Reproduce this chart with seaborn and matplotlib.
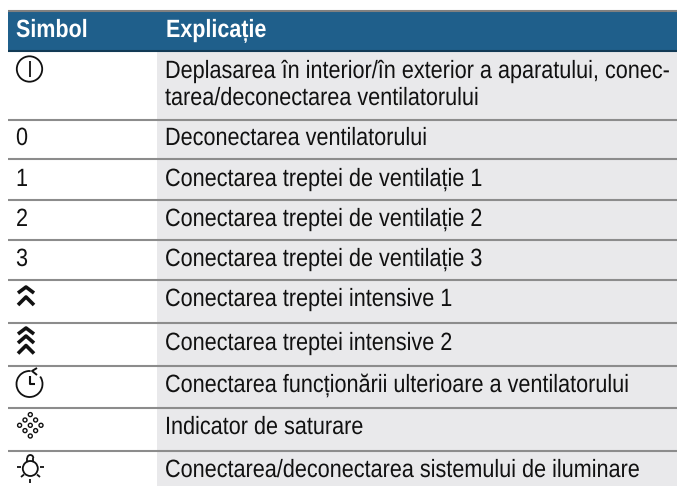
import matplotlib
matplotlib.use("Agg")
import matplotlib.pyplot as plt
from matplotlib.patches import Arc, Circle, Rectangle
from matplotlib.patheffects import AbstractPathEffect
from matplotlib.transforms import Affine2D
import seaborn as sns

symbols = ["", "0", "1", "2", "3", "", "", "", "", ""]
explanations = [
    "Deplasarea în interior/în exterior a aparatului, conec-\ntarea/deconectarea ventilatorului",
    "Deconectarea ventilatorului",
    "Conectarea treptei de ventilație 1",
    "Conectarea treptei de ventilație 2",
    "Conectarea treptei de ventilație 3",
    "Conectarea treptei intensive 1",
    "Conectarea treptei intensive 2",
    "Conectarea funcționării ulterioare a ventilatorului",
    "Indicator de saturare",
    "Conectarea/deconectarea sistemului de iluminare",
]
headers = ["Simbol", "Explicație"]
row_lines = [120, 159.5, 200, 240, 280, 323, 366, 408, 451]
baselines = [78, 145, 186, 226, 266, 306, 350, 392, 434, 477]

BLUE = "#1f5f8b"
INK = "#111111"
HEIGHT = 486
NARROW = 0.865


# no condensed font is installed, so set a smaller size and stretch it up from the baseline
class Tall(AbstractPathEffect):
    def __init__(self, y0, sy):
        super().__init__()
        self.y0 = y0
        self.sy = sy

    def draw_path(self, renderer, gc, tpath, affine, rgbFace=None):
        tall = affine + Affine2D().translate(0, -self.y0).scale(1, self.sy).translate(0, self.y0)
        renderer.draw_path(gc, tpath, tall, rgbFace)


sns.set_style("white")
plt.rcParams["font.family"] = ["Liberation Sans"]
fig = plt.figure(figsize=(6.77, 4.86), dpi=100)
ax = fig.add_axes([0, 0, 1, 1])
ax.set_xlim(0, 677)
ax.set_ylim(HEIGHT, 0)
ax.axis("off")


def label(x, y, s, narrow=NARROW, **kw):
    kw.setdefault("color", INK)
    ax.text(x, y, s, va="baseline", fontsize=18 * narrow,
            path_effects=[Tall(HEIGHT - y, 1 / narrow)], **kw)


# grey column and header band
ax.add_patch(Rectangle((157, 51), 520, 435, color="#e9e9eb", lw=0))
ax.add_patch(Rectangle((8, 11), 669, 40, color=BLUE, lw=0))
ax.plot([8, 677], [11, 11], color="#808080", lw=1.5, solid_capstyle="butt")
ax.plot([8, 677], [50.8, 50.8], color="#123a55", lw=1.5, solid_capstyle="butt")

label(16, 37, headers[0], narrow=0.86, color="white", fontweight="bold")
label(166, 37, headers[1], narrow=0.86, color="white", fontweight="bold")

for y in row_lines:
    ax.plot([8, 677], [y, y], color="#8c8c8c", lw=1.5, solid_capstyle="butt")

for i, txt in enumerate(explanations):
    if "\n" in txt:
        first, second = txt.split("\n")
        label(165, baselines[i], first)
        label(165, baselines[i] + 27, second)
    else:
        label(165, baselines[i], txt)
    if symbols[i]:
        label(16, baselines[i], symbols[i])


def line(xs, ys, lw=1.5):
    ax.plot(xs, ys, color=INK, lw=lw, solid_capstyle="butt")


def ring(x, y, r, lw=1.2):
    ax.add_patch(Circle((x, y), r, fill=False, ec=INK, lw=lw))


# power symbol
ring(29.5, 69, 12.7, lw=1.3)
line([29.5, 29.5], [61, 77], lw=1.3)

# single and double chevrons
for top, h in [(287, 6), (297, 8)]:
    line([18, 26, 34], [top + h, top, top + h], lw=2.6)
for top, h in [(328, 6), (336, 7), (345.5, 8)]:
    line([18, 26, 34], [top + h, top, top + h], lw=2.6)

# clock with arrow
ax.add_patch(Arc((29.5, 384), 26, 26, theta1=-35, theta2=275, ec=INK, lw=1.3))
line([29.7, 29.7, 35], [376, 383.5, 383.5], lw=1.5)
line([37, 32, 37], [368, 371, 375], lw=1.4)

# saturation dots
for dx, dy in [(0, -10.7), (-5.3, -5.3), (5.3, -5.3), (-10.7, 0), (0, 0), (10.7, 0), (-5.3, 5.3), (5.3, 5.3), (0, 10.7)]:
    ring(30.3 + dx, 425.3 + dy, 2, lw=1.0)

# lamp
ring(30.3, 468.5, 7.5, lw=1.3)
ax.add_patch(Arc((30.3, 458), 6, 6, theta1=180, theta2=360, ec=INK, lw=1.3))
line([27.3, 27.3], [458, 462], lw=1.3)
line([33.3, 33.3], [458, 462], lw=1.3)
line([17, 21], [467, 467], lw=1.3)
line([40, 44], [467, 467], lw=1.3)
line([21, 24], [477, 474.5], lw=1.3)
line([40, 37], [477, 474.5], lw=1.3)
line([30.3, 30.3], [478.5, 482.5], lw=1.3)

fig.savefig("out.png", dpi=100)
